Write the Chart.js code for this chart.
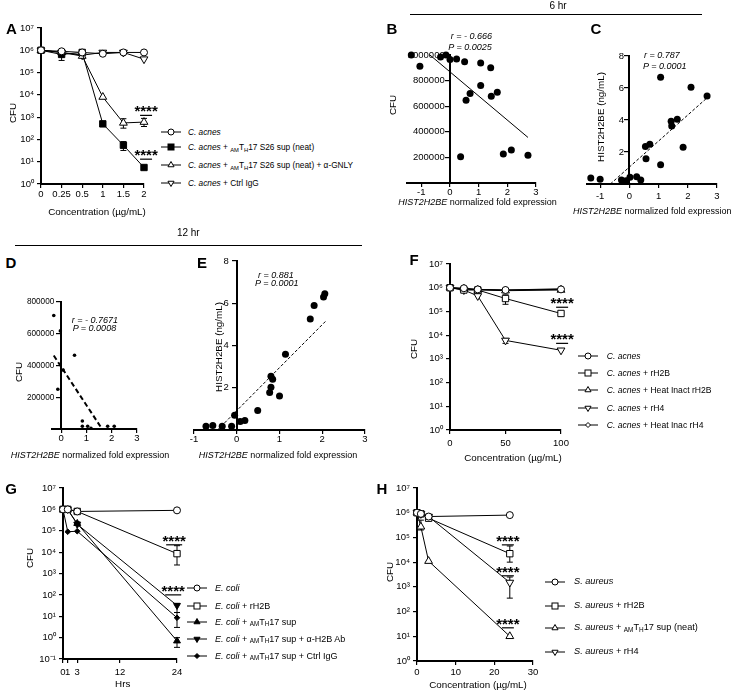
<!DOCTYPE html>
<html>
<head>
<meta charset="utf-8">
<title>Histone CFU panels</title>
<script src="https://cdn.jsdelivr.net/npm/chart.js@4.4.1/dist/chart.umd.min.js"></script>
<style>
  body { margin: 0; background: #fff; }
  #fig { position: relative; width: 737px; height: 697px; overflow: hidden;
         font-family: "Liberation Sans", Arial, Helvetica, sans-serif; color: #000; }
  #fig canvas { position: absolute; }
  .t { position: absolute; white-space: nowrap; font-size: 9px; line-height: 1; }
  .c { transform: translate(-50%, -50%); }
  .l { transform: translate(0, -50%); }
  .v { transform: translate(-50%, -50%) rotate(-90deg); }
  .lab { font-weight: bold; font-size: 15px; }
  .hr { font-size: 10px; }
  .big { font-size: 9.8px; }
  .st { font-style: italic; }
  .rule { position: absolute; height: 0; border-top: 1.5px solid #000; }
  .t svg { vertical-align: middle; }
  sub { font-size: 0.7em; vertical-align: -0.3em; line-height: 0; }
</style>
</head>
<body>
<div id="fig"></div>
<script>
// ---------- tick labels ----------
var cfuTicks = [1, 10, 100, 1000, 10000, 100000, 1000000, 10000000];
var cfuTickLabels = ['10⁰', '10¹', '10²', '10³', '10⁴', '10⁵', '10⁶', '10⁷'];
var cfuTicksG = [0.1, 1, 10, 100, 1000, 10000, 100000, 1000000, 10000000];
var cfuTickLabelsG = ['10⁻¹', '10⁰', '10¹', '10²', '10³', '10⁴', '10⁵', '10⁶', '10⁷'];
var exprTicks = [-1, 0, 1, 2, 3];
var exprTickLabels = ['-1', '0', '1', '2', '3'];
var exprTicksD = [0, 1, 2, 3];
var exprTickLabelsD = ['0', '1', '2', '3'];
var cfuLinTicks = [200000, 400000, 600000, 800000, 1000000];
var cfuLinTickLabels = ['200000', '400000', '600000', '800000', '1000000'];
var cfuLinTicksD = [200000, 400000, 600000, 800000];
var cfuLinTickLabelsD = ['200000', '400000', '600000', '800000'];
var ngTicks = [2, 4, 6, 8];
var ngTickLabels = ['2', '4', '6', '8'];

// ---------- A ----------
var concA = ['0', '0.25', '0.5', '1', '1.5', '2'];
var aCacnes = [1000000, 900000, 800000, 700000, 800000, 800000];
var aSup = [1000000, 650000, 800000, 500, 55, 5.5];
var aSupLo = [null, 350000, null, null, 32, null];
var aSupHi = [null, 900000, null, null, 80, null];
var aGnly = [1000000, 800000, 550000, 8000, 550, 600];
var aGnlyLo = [null, null, null, null, 320, 380];
var aGnlyHi = [null, null, null, null, 850, 880];
var aIgg = [1000000, 800000, 600000, 800000, 800000, 400000];
var sigA = [{ x: 5.1, y: 1200 }, { x: 5.1, y: 13 }];

// ---------- B (6 hr, CFU) ----------
var bExpr = [-1.35, -1.05, -0.33, -0.14, 0.0, 0.23, 0.51, 0.56, 0.70, 1.07, 1.07, 1.42, 1.44, 1.65, 0.37, 1.86, 2.14, 2.72];
var bCfu = [1000000, 912000, 984000, 1000000, 964000, 969000, 948000, 647000, 699000, 938000, 761000, 901000, 678000, 709000, 205000, 226000, 257000, 216000];
var bFitX = [-0.70, 2.72];
var bFitY = [1000000, 356000];

// ---------- C (6 hr, ng/mL) ----------
var cExpr = [-1.32, -1.0, -0.27, -0.11, 0.02, 0.25, 0.39, 0.55, 0.70, 0.57, 1.07, 1.07, 1.43, 1.45, 1.64, 1.84, 2.11, 2.66];
var cConc = [0.37, 0.3, 0.25, 0.21, 0.42, 0.46, 0.25, 2.35, 2.48, 1.58, 6.67, 1.21, 3.92, 3.63, 4.04, 2.29, 6.04, 5.5];
var cFitX = [-0.65, 2.7];
var cFitY = [0, 5.45];

// ---------- D (12 hr, CFU) ----------
var dExpr = [-0.29, -0.03, 0.53, 0.08, -0.13, 0.84, 0.84, 1.05, 1.18, 1.84, 2.1];
var dCfu = [715000, 618000, 465000, 371000, 250000, 50000, 17000, 17000, 5000, 17000, 17000];
var dFitX = [-0.29, 1.62];
var dFitY = [463000, 0];

// ---------- E (12 hr, ng/mL) ----------
var eExpr = [-0.72, -0.56, -0.34, -0.12, -0.05, 0.08, 0.19, 0.49, 0.77, 0.80, 0.84, 0.80, 1.0, 1.14, 1.72, 1.81, 2.03, 2.06];
var eConc = [0.18, 0.21, 0.18, 0.18, 0.7, 0.4, 0.45, 0.92, 1.77, 2.02, 2.4, 2.55, 1.61, 3.59, 5.26, 5.89, 6.3, 6.45];
var eFitX = [-0.45, 2.08];
var eFitY = [0, 5.15];

// ---------- F ----------
var concF = [0, 12.5, 25, 50, 100];
var concFTicks = [0, 50, 100];
var concFTickLabels = ['0', '50', '100'];
var fCacnes = [1000000, 950000, 850000, 800000, 850000];
var fH2B = [1000000, 800000, 800000, 350000, 82000];
var fH2BLo = [null, null, null, 200000, null];
var fH2BHi = [null, null, null, 500000, null];
var fHeatH2B = [1000000, 900000, 800000, 750000, 800000];
var fH4 = [1000000, 800000, 450000, 6000, 2300];
var fH4Lo = [null, null, null, 4500, null];
var fH4Hi = [null, null, null, 7200, null];
var fHeatH4 = [1000000, 900000, 850000, 800000, 900000];
var sigF = [{ x: 101, y: 150000 }, { x: 101, y: 4500 }];

// ---------- G ----------
var hrsG = [0, 1, 3, 24];
var hrsTicks = [0, 1, 3, 12, 24];
var hrsTickLabels = ['0', '1', '3', '12', '24'];
var gEcoli = [1000000, 1000000, 800000, 900000];
var gH2B = [1000000, 1000000, 800000, 8500];
var gH2BLo = [null, null, null, 2500];
var gH2BHi = [null, null, null, 20000];
var gSup = [1000000, 950000, 220000, 0.7];
var gSupLo = [null, null, 180000, 0.35];
var gSupHi = [null, null, 260000, 1.0];
var gAb = [1000000, 1000000, 200000, 32];
var gAbLo = [null, null, null, 15];
var gAbHi = [null, null, null, 40];
var gIgg = [1000000, 90000, 95000, 8.5];
var gIggLo = [null, null, null, 3];
var gIggHi = [null, null, null, 15];
var sigG = [{ x: 23.4, y: 22000 }, { x: 23.2, y: 100 }];

// ---------- H ----------
var concH = [0, 1, 3, 24];
var concHTicks = [0, 10, 20, 30];
var concHTickLabels = ['0', '10', '20', '30'];
var hSa = [1000000, 900000, 700000, 800000];
var hH2B = [1000000, 900000, 600000, 22000];
var hH2BLo = [null, null, null, 10000];
var hH2BHi = [null, null, null, 45000];
var hSup = [1000000, 270000, 11000, 10];
var hSupLo = [null, 200000, null, null];
var hSupHi = [null, 500000, null, null];
var hH4 = [1000000, 900000, 700000, 1500];
var hH4Lo = [null, null, null, 350];
var hH4Hi = [null, null, null, 2500];
var sigH = [{ x: 23.5, y: 50000 }, { x: 23.5, y: 2800 }, { x: 23.5, y: 22 }];

(function () {
    'use strict';

    Chart.defaults.font.family = '"Liberation Sans", Arial, sans-serif';
    Chart.defaults.font.size = 9.5;
    Chart.defaults.color = '#000';

    var fig = document.getElementById('fig');
    var ML = 46, MR = 14, MT = 14, MB = 26;

    ////////////////////////////////////////////
    // plugins: error bars + significance marks

    var errorBars = {
        id: 'errorBars',
        beforeDatasetsDraw: function (chart) {
            var ctx = chart.ctx, ys = chart.scales.y;
            chart.data.datasets.forEach(function (ds, i) {
                if (!ds.errLo) return;
                var meta = chart.getDatasetMeta(i);
                ctx.save();
                ctx.strokeStyle = '#000';
                ctx.lineWidth = 1;
                ds.errLo.forEach(function (lo, j) {
                    if (lo == null) return;
                    var px = meta.data[j].x;
                    var y1 = ys.getPixelForValue(lo), y2 = ys.getPixelForValue(ds.errHi[j]);
                    ctx.beginPath();
                    ctx.moveTo(px, y1); ctx.lineTo(px, y2);
                    ctx.moveTo(px - 3, y1); ctx.lineTo(px + 3, y1);
                    ctx.moveTo(px - 3, y2); ctx.lineTo(px + 3, y2);
                    ctx.stroke();
                });
                ctx.restore();
            });
        }
    };

    var sigStars = {
        id: 'sigStars',
        afterDatasetsDraw: function (chart, args, opts) {
            var ctx = chart.ctx, xs = chart.scales.x, ys = chart.scales.y;
            var marks = opts.marks || [];
            for (var k = 0; k < marks.length; k++) {
                var px = xs.getPixelForValue(marks[k].x), py = ys.getPixelForValue(marks[k].y);
                ctx.save();
                ctx.strokeStyle = '#000';
                ctx.lineWidth = 1.2;
                ctx.beginPath();
                ctx.moveTo(px - opts.half, py); ctx.lineTo(px + opts.half, py);
                ctx.stroke();
                ctx.fillStyle = '#000';
                ctx.font = 'bold 15px "Liberation Sans", Arial, sans-serif';
                ctx.textAlign = 'center';
                ctx.textBaseline = 'alphabetic';
                ctx.fillText('****', px, py + 1);
                ctx.restore();
            }
        }
    };

    ////////////////////////////////////////////
    // helpers

    function pts(xs, ys) {
        return xs.map(function (x, i) { return { x: x, y: ys[i] }; });
    }

    // axes crossing at x = 0 ignore ticks.padding, so the gap is made with trailing spaces
    function scale(o) {
        var gap = o.gap ? new Array(o.gap + 1).join(' ') : '';
        var s = {
            type: o.type,
            position: o.position,
            grid: { drawOnChartArea: false, drawTicks: true, tickLength: 4, color: '#000', lineWidth: 1.2 },
            border: { display: true, color: '#000', width: 2 },
            ticks: {
                padding: o.pad, autoSkip: false, maxRotation: 0, minRotation: 0,
                callback: function (v, i) { return o.labels[i] + gap; }
            },
            afterFit: function (sc) {
                if (o.position === 'left') sc.width = ML;
                if (o.position === 'bottom') sc.height = MB;
            }
        };
        if (o.size) s.ticks.font = { size: o.size };
        if (o.min !== undefined) { s.min = o.min; s.max = o.max; }
        if (o.values) {
            s.afterBuildTicks = function (sc) {
                sc.ticks = o.values.map(function (v) { return { value: v }; });
            };
        }
        return s;
    }

    function series(data, shape, filled, r, lo, hi) {
        return {
            data: data, showLine: true, clip: false,
            borderColor: '#000', borderWidth: 1,
            pointStyle: shape === 'down' ? 'triangle' : shape,
            rotation: shape === 'down' ? 180 : 0,
            pointRadius: r, pointBorderColor: '#000', pointBorderWidth: 1,
            pointBackgroundColor: filled ? '#000' : '#fff',
            errLo: lo, errHi: hi
        };
    }

    function dots(data, r) {
        return {
            data: data, showLine: false, clip: false,
            pointStyle: 'circle', pointRadius: r, pointBorderWidth: 0,
            pointBackgroundColor: '#000', pointBorderColor: '#000'
        };
    }

    function fit(data, dash, w) {
        return {
            data: data, showLine: true, clip: false, pointRadius: 0,
            borderColor: '#000', borderWidth: w, borderDash: dash
        };
    }

    function panel(area, type, labels, datasets, xs, ys, marks, half) {
        var l = Math.round(area[0]), t = Math.round(area[1]);
        var r = Math.round(area[2]), b = Math.round(area[3]);
        var cv = document.createElement('canvas');
        cv.width = r - l + ML + MR;
        cv.height = b - t + MT + MB;
        cv.style.left = (l - ML) + 'px';
        cv.style.top = (t - MT) + 'px';
        fig.appendChild(cv);
        var data = { datasets: datasets };
        if (labels) data.labels = labels;
        return new Chart(cv, {
            type: type,
            data: data,
            options: {
                responsive: false, animation: false, events: [],
                layout: {
                    autoPadding: false,
                    padding: { left: ys.position === 'left' ? 0 : ML, right: MR, top: MT, bottom: 0 }
                },
                scales: { x: xs, y: ys },
                plugins: {
                    legend: { display: false },
                    tooltip: { enabled: false },
                    sigStars: { marks: marks || [], half: half || 6 }
                }
            },
            plugins: [errorBars, sigStars]
        });
    }

    function put(x, y, html, cls) {
        var d = document.createElement('div');
        d.className = 't ' + (cls || 'c');
        d.style.left = x + 'px';
        d.style.top = y + 'px';
        d.innerHTML = html;
        fig.appendChild(d);
        return d;
    }

    function rule(x, y, w) {
        var d = document.createElement('div');
        d.className = 'rule';
        d.style.left = x + 'px';
        d.style.top = y + 'px';
        d.style.width = w + 'px';
        fig.appendChild(d);
    }

    function glyph(shape, filled, r) {
        var f = filled ? '#000' : '#fff', s;
        var h = (r * 0.87).toFixed(2);
        if (shape === 'circle') {
            s = '<circle cx="10" cy="5" r="' + r + '"/>';
        } else if (shape === 'rect') {
            s = '<rect x="' + (10 - r) + '" y="' + (5 - r) + '" width="' + 2 * r + '" height="' + 2 * r + '"/>';
        } else if (shape === 'triangle') {
            s = '<polygon points="10,' + (5 - r) + ' ' + (10 + +h) + ',' + (5 + r / 2) + ' ' + (10 - h) + ',' + (5 + r / 2) + '"/>';
        } else if (shape === 'down') {
            s = '<polygon points="10,' + (5 + r) + ' ' + (10 + +h) + ',' + (5 - r / 2) + ' ' + (10 - h) + ',' + (5 - r / 2) + '"/>';
        } else {
            s = '<polygon points="10,' + (5 - r) + ' ' + (10 + r) + ',5 10,' + (5 + r) + ' ' + (10 - r) + ',5"/>';
        }
        return '<svg width="20" height="10" viewBox="0 0 20 10"><line x1="0" y1="5" x2="20" y2="5" stroke="#000" stroke-width="1"/>' +
            '<g fill="' + f + '" stroke="#000" stroke-width="1">' + s + '</g></svg>';
    }

    function legend(gx, tx, size, rows) {
        rows.forEach(function (row) {
            put(gx, row[0], glyph(row[1], row[2], row[3]), 'l');
            put(tx, row[0], row[4], 'l').style.fontSize = size + 'px';
        });
    }

    var TH = '<sub>AM</sub>T<sub>H</sub>17';
    var XT = '<i>HIST2H2BE</i> normalized fold expression';

    ////////////////////////////////////////////
    // A

    panel([41, 28, 144, 184], 'line', concA, [
        series(aCacnes, 'circle', false, 3.5),
        series(aSup, 'rect', true, 4.5, aSupLo, aSupHi),
        series(aGnly, 'triangle', false, 4.5, aGnlyLo, aGnlyHi),
        series(aIgg, 'down', false, 4.5)
    ],
        scale({ type: 'category', position: 'bottom', pad: 1, labels: concA }),
        scale({ type: 'logarithmic', position: 'left', min: 1, max: 10000000, pad: 3, values: cfuTicks, labels: cfuTickLabels }),
        sigA, 6);

    // B
    panel([406.5, 54.5, 536, 183], 'scatter', null, [
        dots(pts(bExpr, bCfu), 3.5),
        fit(pts(bFitX, bFitY), [], 1)
    ],
        scale({ type: 'linear', position: 'bottom', min: -1.5, max: 3, pad: 0, values: exprTicks, labels: exprTickLabels }),
        scale({ type: 'linear', position: { x: 0 }, min: 0, max: 1000000, gap: 2, values: cfuLinTicks, labels: cfuLinTickLabels }));

    // C
    panel([586.5, 55.7, 716.5, 183.7], 'scatter', null, [
        dots(pts(cExpr, cConc), 3.5),
        fit(pts(cFitX, cFitY), [3, 2], 1)
    ],
        scale({ type: 'linear', position: 'bottom', min: -1.45, max: 3, pad: 3, values: exprTicks, labels: exprTickLabels }),
        scale({ type: 'linear', position: { x: 0 }, min: 0, max: 8, gap: 2, values: ngTicks, labels: ngTickLabels }));

    // D
    panel([51.7, 302, 136.7, 429], 'scatter', null, [
        dots(pts(dExpr, dCfu), 1.8),
        fit(pts(dFitX, dFitY), [5, 3], 2)
    ],
        scale({ type: 'linear', position: 'bottom', min: -0.36, max: 3, pad: 0, values: exprTicksD, labels: exprTickLabelsD }),
        scale({ type: 'linear', position: { x: 0 }, min: 0, max: 800000, gap: 3, size: 8.2, values: cfuLinTicksD, labels: cfuLinTickLabelsD }));

    // E
    panel([194, 260.7, 364.7, 429.5], 'scatter', null, [
        dots(pts(eExpr, eConc), 3.5),
        fit(pts(eFitX, eFitY), [3, 2], 1)
    ],
        scale({ type: 'linear', position: 'bottom', min: -1, max: 3, pad: 0, values: exprTicks, labels: exprTickLabels }),
        scale({ type: 'linear', position: { x: 0 }, min: 0, max: 8, gap: 3, values: ngTicks, labels: ngTickLabels }));

    // F
    panel([450, 264.3, 560.7, 430.3], 'scatter', null, [
        series(pts(concF, fCacnes), 'circle', false, 3.5),
        series(pts(concF, fH2B), 'rect', false, 4.5, fH2BLo, fH2BHi),
        series(pts(concF, fHeatH2B), 'triangle', false, 4.5),
        series(pts(concF, fH4), 'down', false, 4.5, fH4Lo, fH4Hi),
        series(pts(concF, fHeatH4), 'rectRot', false, 3)
    ],
        scale({ type: 'linear', position: 'bottom', min: 0, max: 100, pad: 4, values: concFTicks, labels: concFTickLabels }),
        scale({ type: 'logarithmic', position: 'left', min: 1, max: 10000000, pad: 3, values: cfuTicks, labels: cfuTickLabels }),
        sigF, 6);

    // G
    panel([62.7, 488.3, 176.7, 659], 'scatter', null, [
        series(pts(hrsG, gEcoli), 'circle', false, 3.5),
        series(pts(hrsG, gH2B), 'rect', false, 4.5, gH2BLo, gH2BHi),
        series(pts(hrsG, gSup), 'triangle', true, 4, gSupLo, gSupHi),
        series(pts(hrsG, gAb), 'down', true, 4, gAbLo, gAbHi),
        series(pts(hrsG, gIgg), 'rectRot', true, 2.8, gIggLo, gIggHi)
    ],
        scale({ type: 'linear', position: 'bottom', min: 0, max: 24, pad: 4, values: hrsTicks, labels: hrsTickLabels }),
        scale({ type: 'logarithmic', position: 'left', min: 0.1, max: 10000000, pad: 3, values: cfuTicksG, labels: cfuTickLabelsG }),
        sigG, 8);

    // H
    panel([417.3, 488.3, 532.7, 661], 'scatter', null, [
        series(pts(concH, hSa), 'circle', false, 3.5),
        series(pts(concH, hH2B), 'rect', false, 4.5, hH2BLo, hH2BHi),
        series(pts(concH, hSup), 'triangle', false, 4.5, hSupLo, hSupHi),
        series(pts(concH, hH4), 'down', false, 4.5, hH4Lo, hH4Hi)
    ],
        scale({ type: 'linear', position: 'bottom', min: 0, max: 30, pad: 2, values: concHTicks, labels: concHTickLabels }),
        scale({ type: 'logarithmic', position: 'left', min: 1, max: 10000000, pad: 3, values: cfuTicks, labels: cfuTickLabels }),
        sigH, 6);

    ////////////////////////////////////////////
    // text

    put(11.5, 27.5, 'A', 'c lab');
    put(392, 27.5, 'B', 'c lab');
    put(596, 27.5, 'C', 'c lab');
    put(11, 262, 'D', 'c lab');
    put(202, 262, 'E', 'c lab');
    put(414, 259, 'F', 'c lab');
    put(11, 487.5, 'G', 'c lab');
    put(382, 487.5, 'H', 'c lab');

    put(558, 6, '6 hr', 'c hr');
    rule(410, 14, 292);
    put(188.3, 233, '12 hr', 'c hr');
    rule(15, 245, 347);

    put(13.3, 113, 'CFU', 'v big');
    put(97, 211.7, 'Concentration (µg/mL)', 'c big');
    put(393.3, 105, 'CFU', 'v big');
    put(477.5, 202, XT);
    put(601.3, 116.7, 'HIST2H2BE (ng/mL)', 'v big');
    put(652.3, 211.3, XT);
    put(19, 371.7, 'CFU', 'v big');
    put(90, 455, XT);
    put(218.5, 347, 'HIST2H2BE (ng/mL)', 'v big');
    put(278, 455, XT);
    put(414, 349, 'CFU', 'v big');
    put(513, 457.7, 'Concentration (µg/mL)', 'c big');
    put(30, 557.7, 'CFU', 'v big');
    put(122.7, 684, 'Hrs', 'c big');
    put(390, 572.3, 'CFU', 'v big');
    put(478, 685, 'Concentration (µg/mL)', 'c big');

    put(450.7, 35.7, 'r = - 0.666', 'l st');
    put(448.3, 46.7, 'P = 0.0025', 'l st');
    put(644, 55, 'r = 0.787', 'l st');
    put(643, 65.7, 'P = 0.0001', 'l st');
    put(71.7, 320, 'r = - 0.7671', 'l st');
    put(72.7, 328.3, 'P = 0.0008', 'l st');
    put(258, 275, 'r = 0.881', 'l st');
    put(255, 282.7, 'P = 0.0001', 'l st');

    ////////////////////////////////////////////
    // legends

    legend(161, 188, 8.3, [
        [132, 'circle', false, 3, '<i>C. acnes</i>'],
        [146.7, 'rect', true, 3, '<i>C. acnes</i> + ' + TH + ' S26 sup (neat)'],
        [164.7, 'triangle', false, 3.5, '<i>C. acnes</i> + ' + TH + ' S26 sup (neat) + α-GNLY'],
        [182.7, 'down', false, 3.5, '<i>C. acnes</i> + Ctrl IgG']
    ]);
    legend(578, 606.7, 8.6, [
        [355.7, 'circle', false, 3, '<i>C. acnes</i>'],
        [373, 'rect', false, 3, '<i>C. acnes</i> + rH2B'],
        [390.3, 'triangle', false, 3.5, '<i>C. acnes</i> + Heat Inact rH2B'],
        [407.7, 'down', false, 3.5, '<i>C. acnes</i> + rH4'],
        [425, 'diamond', false, 2.5, '<i>C. acnes</i> + Heat Inac rH4']
    ]);
    legend(187, 215, 9, [
        [587.7, 'circle', false, 3, '<i>E. coli</i>'],
        [605.7, 'rect', false, 3, '<i>E. coli</i> + rH2B'],
        [622.3, 'triangle', true, 3.5, '<i>E. coli</i> + ' + TH + ' sup'],
        [639, 'down', true, 3.5, '<i>E. coli</i> + ' + TH + ' sup + α-H2B Ab'],
        [656.3, 'diamond', true, 2.5, '<i>E. coli</i> + ' + TH + ' sup + Ctrl IgG']
    ]);
    legend(545, 574, 9.2, [
        [581.7, 'circle', false, 3, '<i>S. aureus</i>'],
        [605.7, 'rect', false, 3, '<i>S. aureus</i> + rH2B'],
        [627.7, 'triangle', false, 3.5, '<i>S. aureus</i> + ' + TH + ' sup (neat)'],
        [652.3, 'down', false, 3.5, '<i>S. aureus</i> + rH4']
    ]);

})();
</script>
</body>
</html>
